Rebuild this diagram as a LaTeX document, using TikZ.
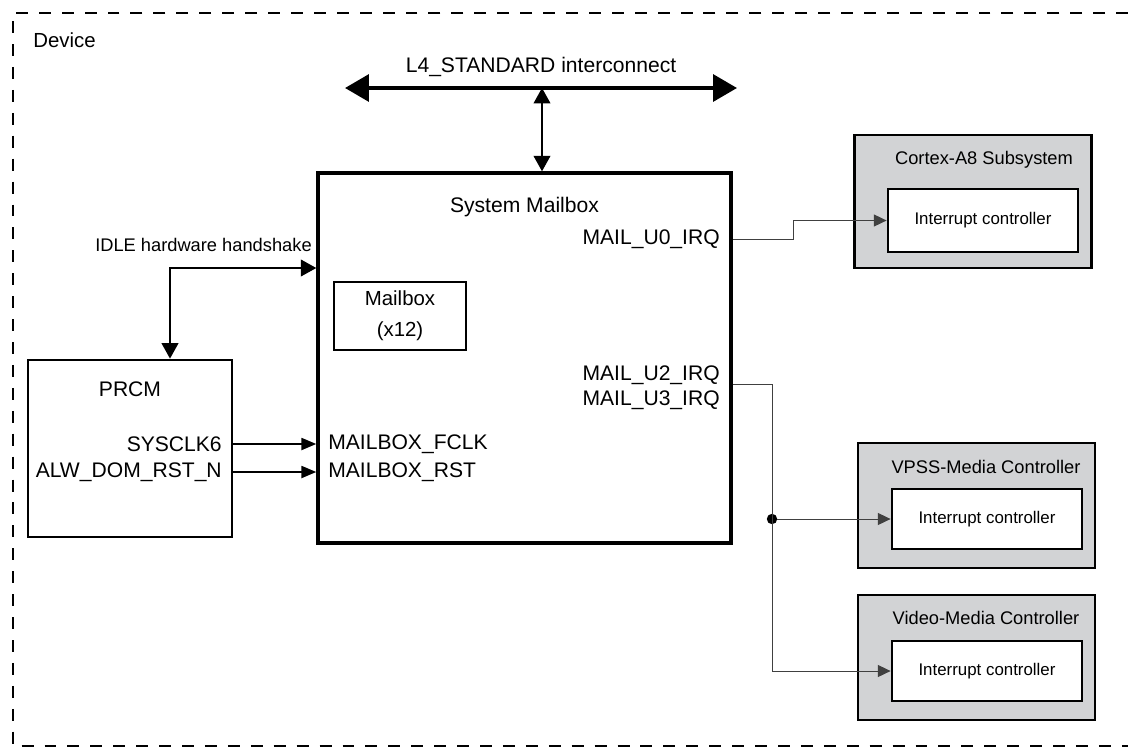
\documentclass[tikz,border=0pt]{standalone}
\usepackage{fontspec}
\setmainfont{Liberation Sans}
\usetikzlibrary{arrows.meta,positioning}
\definecolor{subGray}{RGB}{210,211,213}

\begin{document}
\begin{tikzpicture}[
    x=0.025cm, y=-0.025cm,
    every node/.style={font=\fontsize{15}{18}\selectfont, inner sep=0pt},
    blkNode/.style={rectangle, draw, line width=2pt, fill=white},
    subNode/.style={rectangle, draw, line width=2pt, fill=subGray, minimum width=5.925cm, minimum height=3.125cm},
    icNode/.style={rectangle, draw, line width=2pt, fill=white, minimum width=4.75cm, minimum height=1.5cm, font=\fontsize{12}{14}\selectfont},
    smallTxt/.style={font=\fontsize{13}{16}\selectfont},
    devLine/.style={line width=1.8pt, dash pattern=on 8.5pt off 7.8pt},
    bus/.style={line width=2.8pt, {Triangle[length=17pt,width=19pt]}-{Triangle[length=17pt,width=19pt]}},
    link/.style={line width=0.9pt, {Triangle[length=11pt,width=12pt]}-{Triangle[length=11pt,width=12pt]}},
    sig/.style={line width=1.4pt, -{Triangle[length=10.5pt,width=8.5pt]}},
    irq/.style={line width=0.6pt, draw=black!75, -{Triangle[length=9pt,width=8.5pt]}}
]
    \useasboundingbox (0,0) rectangle (1128,750);
    \draw[devLine] (1128,13) -- (13,13) -- (13,746) -- (1128,746);
    \node[anchor=west, font=\fontsize{14.5}{17}\selectfont] (devLbl) at (33,40) {Device};

    % interconnect
    \coordinate (busW) at (345,88);
    \coordinate (busE) at (737,88);
    \coordinate (busTap) at (542,88);
    \draw[bus] (busW) -- (busE);
    \node (busLbl) at (541,67) {L4\_STANDARD interconnect};

    % system mailbox
    \node[blkNode, line width=2.4pt, minimum width=10.325cm, minimum height=9.25cm] (mbox) at (524.5,358) {};
    \node (mboxLbl) at (524.5,207) {System Mailbox};
    \node[blkNode, minimum width=3.3cm, minimum height=1.7cm, align=center, font=\fontsize{14.5}{22}\selectfont] (mboxUnit) at (400,316) {Mailbox\\(x12)};
    \node[anchor=east] (u0Lbl) at (720,239) {MAIL\_U0\_IRQ};
    \node[anchor=east] (u2Lbl) at (720,375) {MAIL\_U2\_IRQ};
    \node[anchor=east] (u3Lbl) at (720,400) {MAIL\_U3\_IRQ};
    \node[anchor=west] (fclkLbl) at (328,444) {MAILBOX\_FCLK};
    \node[anchor=west] (rstLbl) at (328,472) {MAILBOX\_RST};
    \draw[link] (busTap) -- (busTap |- mbox.north);

    % prcm
    \node[blkNode, minimum width=5.1cm, minimum height=4.425cm] (prcm) at (130,448.5) {};
    \node (prcmLbl) at (130,389) {PRCM};
    \node[anchor=east] (clkLbl) at (222,444) {SYSCLK6};
    \node[anchor=east] (rstnLbl) at (222,472) {ALW\_DOM\_RST\_N};
    \draw[sig] (prcm.east |- clkLbl) -- (mbox.west |- clkLbl);
    \draw[sig] (prcm.east |- rstnLbl) -- (mbox.west |- rstnLbl);

    \coordinate (hsBend) at (170,268);
    \draw[link] (prcm.north -| hsBend) -- (hsBend) -- (hsBend -| mbox.west);
    \node[anchor=east, smallTxt] (hsLbl) at (312,245) {IDLE hardware handshake};

    % subsystems
    \node[subNode, minimum height=3.325cm] (cortex) at (973,201.5) {};
    \node[icNode, minimum height=1.575cm] (cortexIC) at (983,220.5) {Interrupt controller};
    \node[smallTxt] (cortexLbl) at (984,160) {Cortex-A8 Subsystem};

    \node[subNode] (vpss) at (976.5,505.5) {};
    \node[icNode] (vpssIC) at (987,519) {Interrupt controller};
    \node[smallTxt] (vpssLbl) at (986,467) {VPSS-Media Controller};

    \node[subNode] (video) at (976.5,657.5) {};
    \node[icNode] (videoIC) at (987,671) {Interrupt controller};
    \node[smallTxt] (videoLbl) at (986,618) {Video-Media Controller};

    % interrupt lines
    \coordinate (u0Jog) at (793,239);
    \draw[irq] (mbox.east |- u0Jog) -- (u0Jog) -- (u0Jog |- cortexIC) -- (cortexIC.west);
    \coordinate (u2Bend) at (772,384);
    \node[circle, fill, minimum size=0.26cm] (irqDot) at (u2Bend |- vpssIC) {};
    \draw[irq] (mbox.east |- u2Bend) -- (u2Bend) -- (u2Bend |- videoIC) -- (videoIC.west);
    \draw[irq] (irqDot) -- (vpssIC.west);
\end{tikzpicture}
\end{document}
